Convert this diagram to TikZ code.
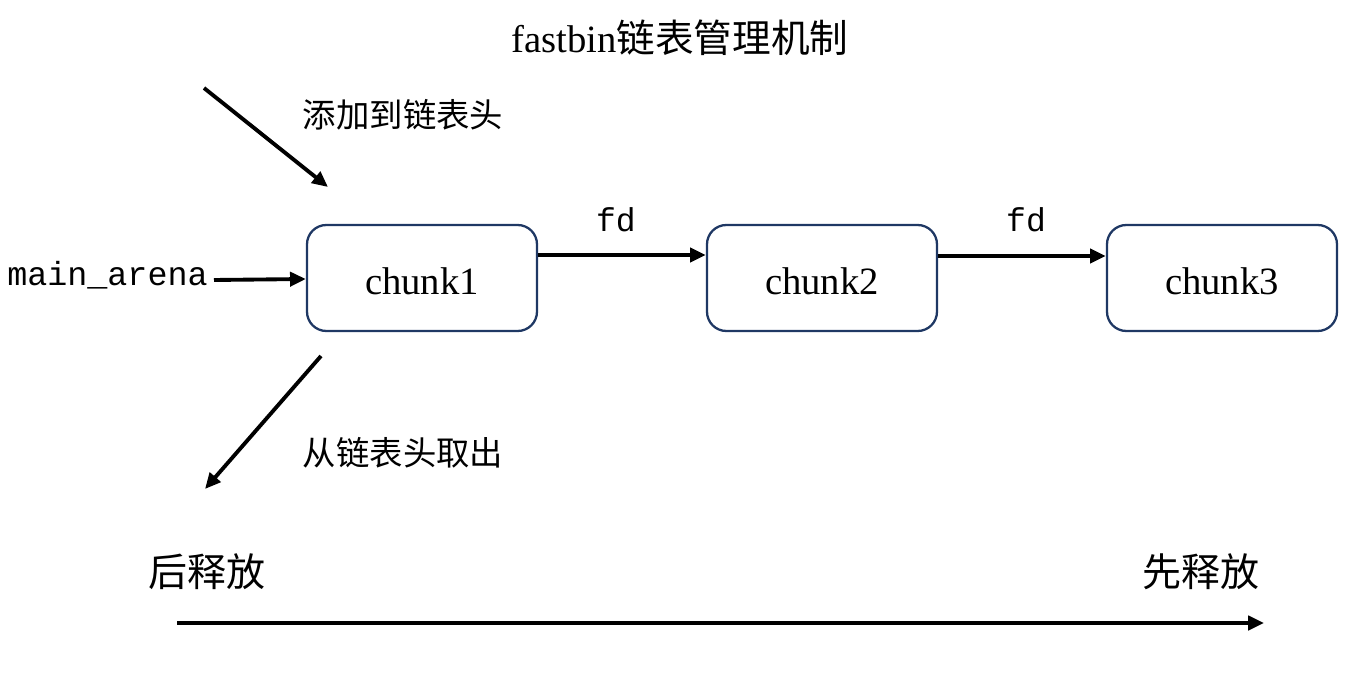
\documentclass[tikz,border=0pt]{standalone}
\usepackage{fontspec}
\setmainfont{Liberation Serif}
\setmonofont{Liberation Mono}
\newfontfamily\cjk{Noto Sans CJK SC}
\usetikzlibrary{arrows.meta}
\definecolor{boxline}{HTML}{1F3864}
\tikzset{
  chunkbox/.style={draw=boxline, line width=1.3pt, rounded corners=11pt, minimum width=230*0.02cm, minimum height=106*0.02cm, inner sep=0pt, text depth=0pt, font=\fontsize{22}{24}\selectfont},
  conn/.style={line width=2.2pt, -{Triangle[length=9pt,width=8pt]}},
  lbl/.style={inner sep=0pt},
}
\begin{document}
\begin{tikzpicture}[x=0.02cm,y=-0.02cm]
\useasboundingbox (0,0) rectangle (1347,679);
\node[lbl, font=\fontsize{22}{24}\selectfont] (title) at (680,38) {fastbin{\cjk 链表管理机制}};
\node[chunkbox] (c1) at (422,278) {\raisebox{-4pt}{chunk1}};
\node[chunkbox] (c2) at (822,278) {\raisebox{-4pt}{chunk2}};
\node[chunkbox] (c3) at (1222,278) {\raisebox{-4pt}{chunk3}};
\node[lbl, font=\ttfamily\fontsize{19}{22}\selectfont, anchor=east] (ma) at (208,275) {main\_arena};
\node[lbl, font=\ttfamily\fontsize{18.8}{22}\selectfont] (fd1) at (616,220) {fd};
\node[lbl, font=\ttfamily\fontsize{18.8}{22}\selectfont] (fd2) at (1026,220) {fd};
\node[lbl, font=\cjk\fontsize{19}{22}\selectfont] (add) at (403,115) {添加到链表头};
\node[lbl, font=\cjk\fontsize{19}{22}\selectfont] (take) at (403,453) {从链表头取出};
\node[lbl, font=\cjk\fontsize{22.2}{24}\selectfont] (late) at (207,572) {后释放};
\node[lbl, font=\cjk\fontsize{22.2}{24}\selectfont] (early) at (1201,572) {先释放};
\coordinate (addstart) at (204,88);
\coordinate (addend) at (328,187);
\coordinate (takestart) at (321,356);
\coordinate (takeend) at (205,489);
\coordinate (tlstart) at (177,623);
\coordinate (tlend) at (1264,623);
\draw[conn] (ma.east |- 0,280) ++(6,0) -- (c1.west |- 0,279);
\draw[conn] (c1.east |- 0,255) -- (c2.west |- 0,255);
\draw[conn] (c2.east |- 0,256) -- (c3.west |- 0,256);
\draw[conn] (addstart) -- (addend);
\draw[conn] (takestart) -- (takeend);
\draw[conn] (tlstart) -- (tlend);
\end{tikzpicture}
\end{document}
